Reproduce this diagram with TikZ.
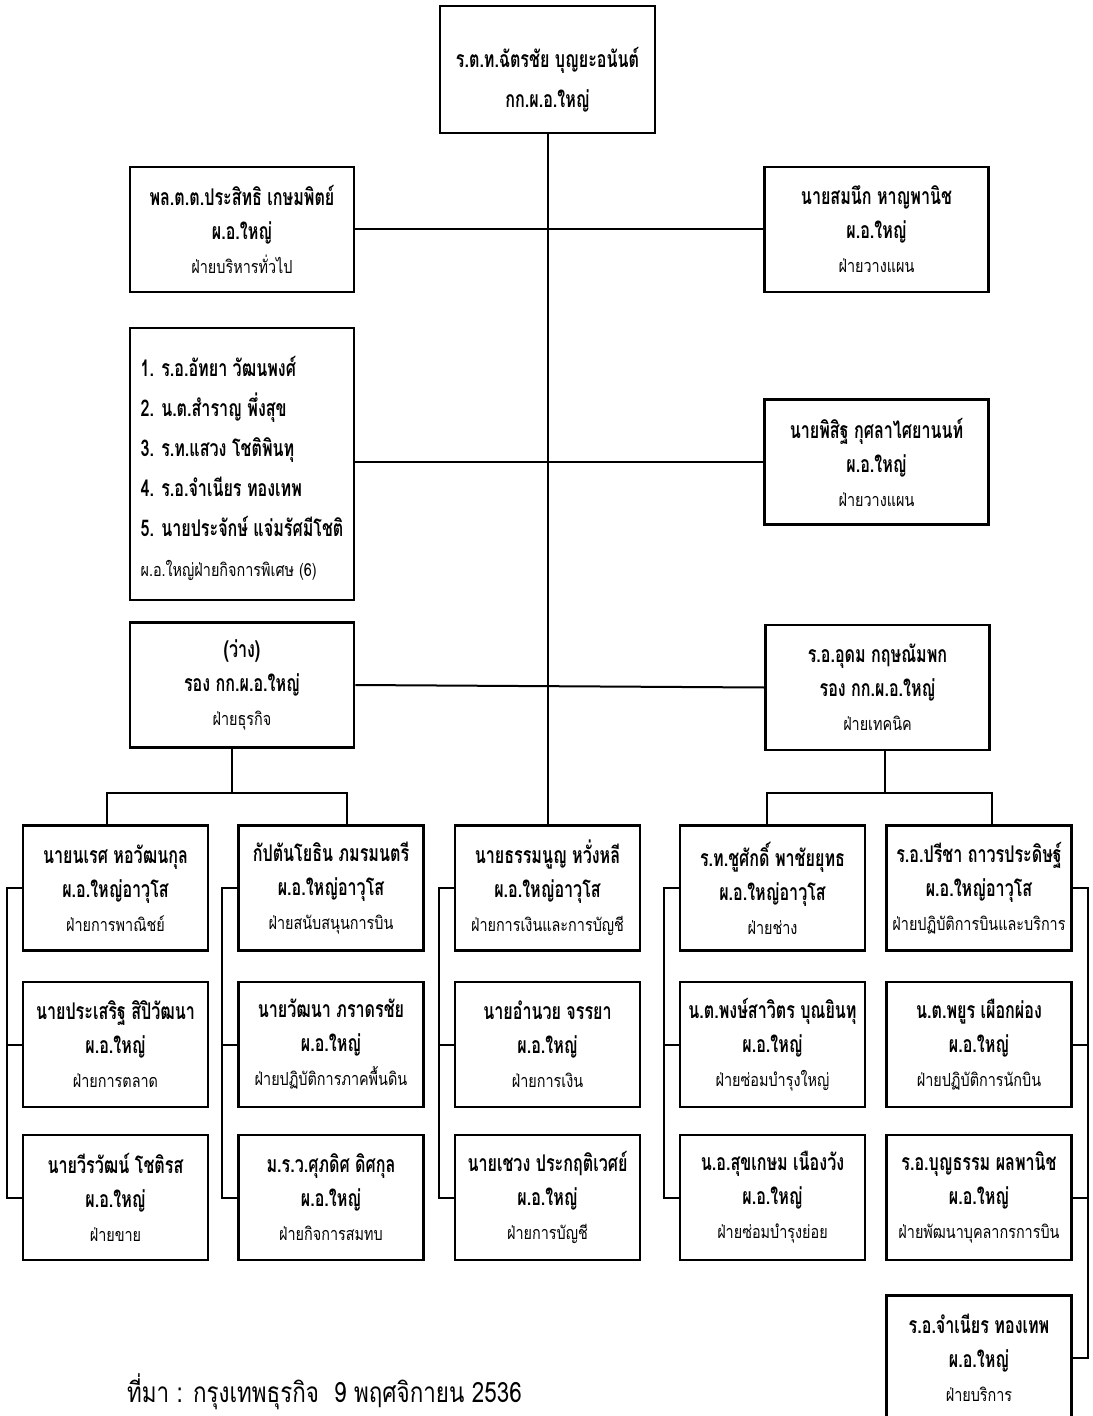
\documentclass[tikz,border=0pt]{standalone}
\usepackage{fontspec}
\newfontfamily\thaifont[Script=Thai,FakeStretch=0.7]{Loma}
\newfontfamily\thaitext[Script=Thai,FakeStretch=0.8]{Loma}
\newcommand{\dept}[1]{{\thaitext\mdseries\fontsize{9}{12}\selectfont #1}}
\tikzset{
  box/.style={draw, line width=1.3pt, align=center, inner sep=2pt,
    minimum width=92.5pt, minimum height=62.5pt,
    font=\thaifont\bfseries\fontsize{11.5}{17}\selectfont},
  widebox/.style={box, minimum width=112pt},
  link/.style={line width=1pt},
}
\begin{document}
\begin{tikzpicture}[x=0.5pt, y=-0.5pt]
  \useasboundingbox (0,0) rectangle (1092,1416);

  % Chief and staff rows
  \node[box, minimum width=107.5pt, minimum height=63.5pt] (chief) at (547.5,69.5)
    {\rule{0pt}{20pt}ร.ต.ท.ฉัตรชัย บุญยะอนันต์\\[3pt]กก.ผ.อ.ใหญ่};
  \node[widebox] (admin) at (242,229.5)
    {พล.ต.ต.ประสิทธิ เกษมพิตย์\\ผ.อ.ใหญ่\\\dept{ฝ่ายบริหารทั่วไป}};
  \node[widebox] (plana) at (876.5,229.5)
    {นายสมนึก หาญพานิช\\ผ.อ.ใหญ่\\\dept{ฝ่ายวางแผน}};
  \node[widebox, align=left, minimum height=136pt,
        font=\thaifont\bfseries\fontsize{11.5}{20}\selectfont] (special) at (242,464)
    {\rule{0pt}{15pt}1. ร.อ.อัทยา วัฒนพงศ์\\2. น.ต.สำราญ พึ่งสุข\\3. ร.ท.แสวง โชติพินทุ\\
     4. ร.อ.จำเนียร ทองเทพ\\5. นายประจักษ์ แจ่มรัศมีโชติ\\\dept{ผ.อ.ใหญ่ฝ่ายกิจการพิเศษ (6)}};
  \node[widebox] (planb) at (876.5,462)
    {นายพิสิฐ กุศลาไศยานนท์\\ผ.อ.ใหญ่\\\dept{ฝ่ายวางแผน}};
  \node[widebox] (biz) at (242,685)
    {(ว่าง)\\รอง กก.ผ.อ.ใหญ่\\\dept{ฝ่ายธุรกิจ}};
  \node[widebox] (tech) at (877.5,687.5)
    {ร.อ.อุดม กฤษณัมพก\\รอง กก.ผ.อ.ใหญ่\\\dept{ฝ่ายเทคนิค}};

  % Business side
  \begin{scope}
    \node[box] (c1a) at (115.5,888) {นายนเรศ หอวัฒนกุล\\ผ.อ.ใหญ่อาวุโส\\\dept{ฝ่ายการพาณิชย์}};
    \node[box] (c1b) at (115.5,1044.5) {นายประเสริฐ สิปิวัฒนา\\ผ.อ.ใหญ่\\\dept{ฝ่ายการตลาด}};
    \node[box] (c1c) at (115.5,1197.5) {นายวีรวัฒน์ โชติรส\\ผ.อ.ใหญ่\\\dept{ฝ่ายขาย}};
    \node[box] (c2a) at (331,888) {กัปตันโยธิน ภมรมนตรี\\ผ.อ.ใหญ่อาวุโส\\\dept{ฝ่ายสนับสนุนการบิน}};
    \node[box] (c2b) at (331,1044.5) {นายวัฒนา ภราดรชัย\\ผ.อ.ใหญ่\\\dept{ฝ่ายปฏิบัติการภาคพื้นดิน}};
    \node[box] (c2c) at (331,1197.5) {ม.ร.ว.ศุภดิศ ดิศกุล\\ผ.อ.ใหญ่\\\dept{ฝ่ายกิจการสมทบ}};
  \end{scope}

  % Finance
  \begin{scope}
    \node[box] (c3a) at (547.5,888) {นายธรรมนูญ หวั่งหลี\\ผ.อ.ใหญ่อาวุโส\\\dept{ฝ่ายการเงินและการบัญชี}};
    \node[box] (c3b) at (547.5,1044.5) {นายอำนวย จรรยา\\ผ.อ.ใหญ่\\\dept{ฝ่ายการเงิน}};
    \node[box] (c3c) at (547.5,1197.5) {นายเชวง ประกฤติเวศย์\\ผ.อ.ใหญ่\\\dept{ฝ่ายการบัญชี}};
  \end{scope}

  % Technical side
  \begin{scope}
    \node[box] (c4a) at (772.5,888) {ร.ท.ชูศักดิ์ พาชัยยุทธ\\ผ.อ.ใหญ่อาวุโส\\\dept{ฝ่ายช่าง}};
    \node[box] (c4b) at (772.5,1044.5) {น.ต.พงษ์สาวิตร บุณยินทุ\\ผ.อ.ใหญ่\\\dept{ฝ่ายซ่อมบำรุงใหญ่}};
    \node[box] (c4c) at (772.5,1197.5) {น.อ.สุขเกษม เนืองวัง\\ผ.อ.ใหญ่\\\dept{ฝ่ายซ่อมบำรุงย่อย}};
    \node[box] (c5a) at (979,888) {ร.อ.ปรีชา ถาวรประดิษฐ์\\ผ.อ.ใหญ่อาวุโส\\\dept{ฝ่ายปฏิบัติการบินและบริการ}};
    \node[box] (c5b) at (979,1044.5) {น.ต.พยูร เผือกผ่อง\\ผ.อ.ใหญ่\\\dept{ฝ่ายปฏิบัติการนักบิน}};
    \node[box] (c5c) at (979,1197.5) {ร.อ.บุญธรรม ผลพานิช\\ผ.อ.ใหญ่\\\dept{ฝ่ายพัฒนาบุคลากรการบิน}};
    \node[box] (c5d) at (979,1358) {ร.อ.จำเนียร ทองเทพ\\ผ.อ.ใหญ่\\\dept{ฝ่ายบริการ}};
  \end{scope}

  % Lines
  \draw[link] (chief.south) -- (c3a.north);
  \draw[link] (admin.east) -- (plana.west);
  \draw[link] (special.east |- planb.west) -- (planb.west);
  \draw[link] (biz.east) -- (tech.west);

  \coordinate (bizD) at (232,793);
  \coordinate (bizL) at (107,793);
  \coordinate (bizR) at (347,793);
  \draw[link] (bizD |- biz.south) -- (bizD);
  \draw[link] (bizL |- c1a.north) -- (bizL) -- (bizR) -- (bizR |- c2a.north);
  \coordinate (techD) at (885,793);
  \coordinate (techL) at (767,793);
  \coordinate (techR) at (992,793);
  \draw[link] (techD |- tech.south) -- (techD);
  \draw[link] (techL |- c4a.north) -- (techL) -- (techR) -- (techR |- c5a.north);

  \draw[link] (c1a.west) -- ++(-15,0) |- (c1c.west);
  \draw[link] (c1b.west) -- ++(-15,0);
  \draw[link] (c2a.west) -- ++(-15,0) |- (c2c.west);
  \draw[link] (c2b.west) -- ++(-15,0);
  \draw[link] (c3a.west) -- ++(-15,0) |- (c3c.west);
  \draw[link] (c3b.west) -- ++(-15,0);
  \draw[link] (c4a.west) -- ++(-15,0) |- (c4c.west);
  \draw[link] (c4b.west) -- ++(-15,0);
  \draw[link] (c5a.east) -- ++(15,0) |- (c5d.east);
  \draw[link] (c5b.east) -- ++(15,0);
  \draw[link] (c5c.east) -- ++(15,0);

  % Source
  \node[anchor=west, font=\thaitext\fontsize{14}{16}\selectfont] (source) at (120,1392)
    {ที่มา : กรุงเทพธุรกิจ\ \ 9 พฤศจิกายน 2536};
\end{tikzpicture}
\end{document}
